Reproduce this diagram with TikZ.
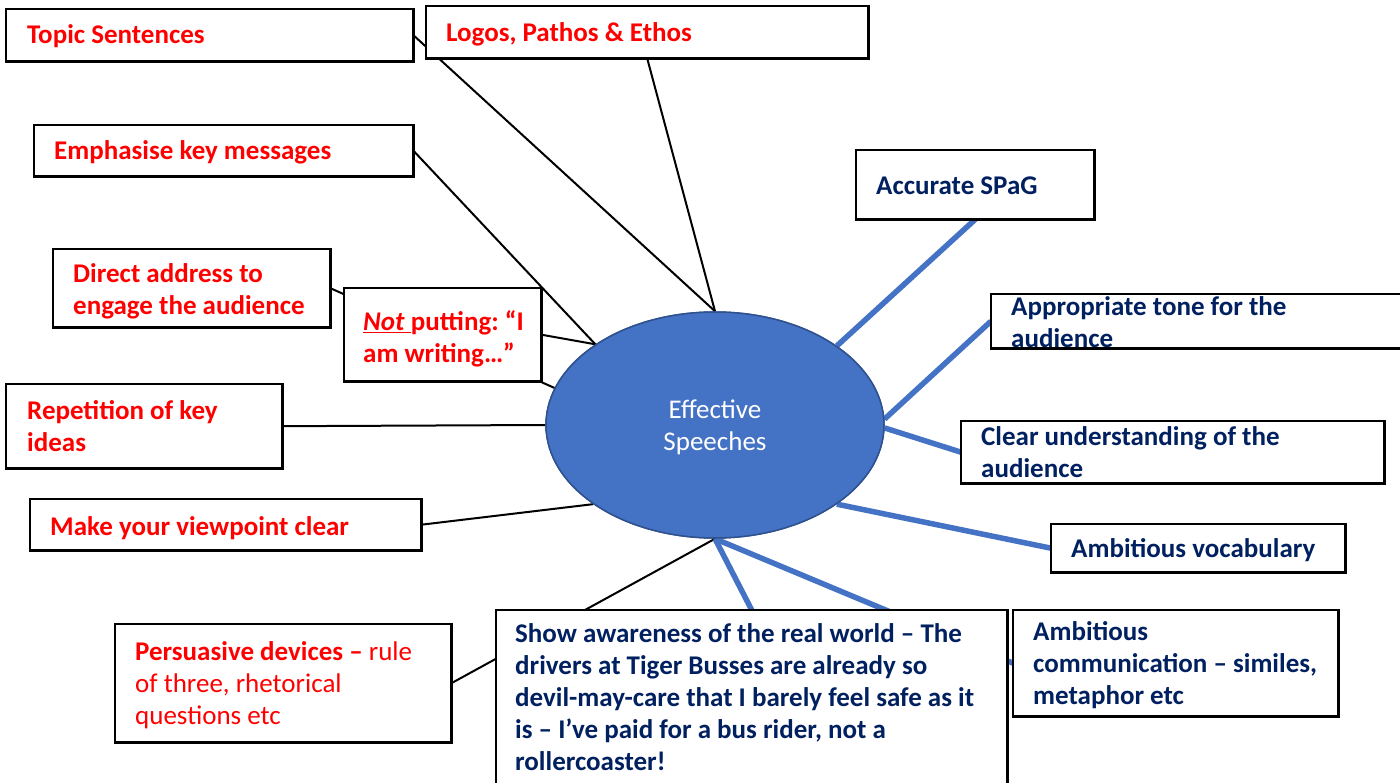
\documentclass[tikz,border=0pt]{standalone}
\usepackage{fontspec}
\setmainfont{Carlito}
\usetikzlibrary{shapes.geometric}
\definecolor{hotred}{HTML}{FF0000}
\definecolor{navy}{HTML}{002060}
\definecolor{hubfill}{HTML}{4472C4}
\definecolor{hubedge}{HTML}{2F528F}
\newcommand{\boxfont}{\fontsize{27}{32}\selectfont}
\begin{document}
\begin{tikzpicture}[x=1pt,y=-1pt,
  box/.style={draw=none, fill=none, inner sep=0pt, anchor=north west},
  txt/.style={anchor=north west, inner sep=0pt, align=left, font=\boxfont},
  redtxt/.style={txt, text=hotred, font=\bfseries\boxfont},
  bluetxt/.style={txt, text=navy, font=\bfseries\boxfont},
  thin/.style={draw=black, line width=2pt},
  thick/.style={draw=hubfill, line width=5.5pt},
  hub/.style={ellipse, draw=hubedge, line width=1.5pt, fill=hubfill, minimum width=338pt, minimum height=226pt, inner sep=0pt}]
\useasboundingbox (0,0) rectangle (1400,783);

% centre ellipse (named first so the connectors can reach it)
\node[hub] (sp) at (715,425) {};

% box outlines are named here and drawn after the connectors
\path
  (6,9)      node[box, minimum width=407pt, minimum height=52pt]  (topic) {}
  (426,6)    node[box, minimum width=442pt, minimum height=52pt]  (logos) {}
  (34,125)   node[box, minimum width=379pt, minimum height=51pt]  (emph) {}
  (53,249)   node[box, minimum width=277pt, minimum height=78pt]  (direct) {}
  (344,288)  node[box, minimum width=197pt, minimum height=93pt]  (notp) {}
  (6,384)    node[box, minimum width=276pt, minimum height=84pt]  (rep) {}
  (30,499)   node[box, minimum width=391pt, minimum height=51pt]  (make) {}
  (115,624)  node[box, minimum width=336pt, minimum height=118pt] (pers) {}
  (496,610)  node[box, minimum width=511pt, minimum height=200pt] (show) {}
  (1013,610) node[box, minimum width=325pt, minimum height=106pt] (ambc) {}
  (1051,524) node[box, minimum width=294pt, minimum height=48pt]  (ambv) {}
  (961,421)  node[box, minimum width=423pt, minimum height=62pt]  (clear) {}
  (991,294)  node[box, minimum width=429pt, minimum height=54pt]  (tone) {}
  (856,150)  node[box, minimum width=238pt, minimum height=69pt]  (spag) {};

% black connectors
\draw[thin] (topic.east) -- (sp.north);
\draw[thin] (logos.south) -- (sp.north);
\draw[thin] (emph.east) -- (sp.146);
\draw[thin] (direct.east) -- (sp.167.6);
\draw[thin] (notp.east) -- (sp.146);
\draw[thin] (rep.east) -- (sp.west);
\draw[thin] (make.east) -- (sp.213.6);
\draw[thin] (pers.east) -- (sp.south);

% blue connectors
\draw[thick] (spag.south) -- (sp.33);
\draw[thick] (tone.west) -- (sp.2);
\draw[thick] (clear.west) -- (sp.-1);
\draw[thick] (ambv.west) -- (sp.-33.4);
\draw[thick] (show.north) -- (sp.south);
\draw[thick] (ambc.west) -- (sp.south);

% centre ellipse on top of the line ends
\node[hub] (sp2) at (715,425) {};

% white boxes over the connectors
\foreach \n in {topic,logos,emph,direct,notp,rep,make,pers,show,ambc,ambv,clear,tone,spag}{
  \draw[line width=2.6pt, fill=white] (\n.north west) rectangle (\n.south east);
}

% labels
\node[redtxt] (topic-t) at (27,20.6) {\strut Topic Sentences};
\node[redtxt] (logos-t) at (446,18.6) {\strut Logos, Pathos \& Ethos};
\node[redtxt] (emph-t) at (54,136.6) {\strut Emphasise key messages};
\node[redtxt] (direct-t) at (73,259.6) {\strut Direct address to\\engage the audience};
\node[redtxt] (notp-t) at (363,307.6) {\strut\underline{\textit{Not }}putting:~“I\\am writing…”};
\node[redtxt] (rep-t) at (27,396.6) {\strut Repetition of key\\ideas};
\node[redtxt] (make-t) at (50,512.6) {\strut Make your viewpoint clear};
\node[txt, text=hotred] (pers-t) at (135,637.6) {\strut\textbf{Persuasive devices –} rule\\of three, rhetorical\\questions etc};

\node[bluetxt] (show-t) at (515,619.6) {\strut Show awareness of the real world – The\\drivers at Tiger Busses are already so\\devil-may-care that I barely feel safe as it\\is – I’ve paid for a bus rider, not a\\rollercoaster!};
\node[bluetxt] (ambc-t) at (1033,617.6) {\strut Ambitious\\communication – similes,\\metaphor etc};
\node[bluetxt] (ambv-t) at (1071,534.6) {\strut Ambitious vocabulary};
\node[bluetxt] (clear-t) at (981,422.6) {\strut Clear understanding of the\\audience};
\node[bluetxt] (tone-t) at (1011,292.6) {\strut Appropriate tone for the\\audience};
\node[bluetxt] (spag-t) at (876,171.6) {\strut Accurate SPaG};

\node[anchor=north, inner sep=0pt, align=center, text=white, font=\boxfont] (sp-t) at (715,395.6) {\strut Effective\\Speeches};
\end{tikzpicture}
\end{document}
